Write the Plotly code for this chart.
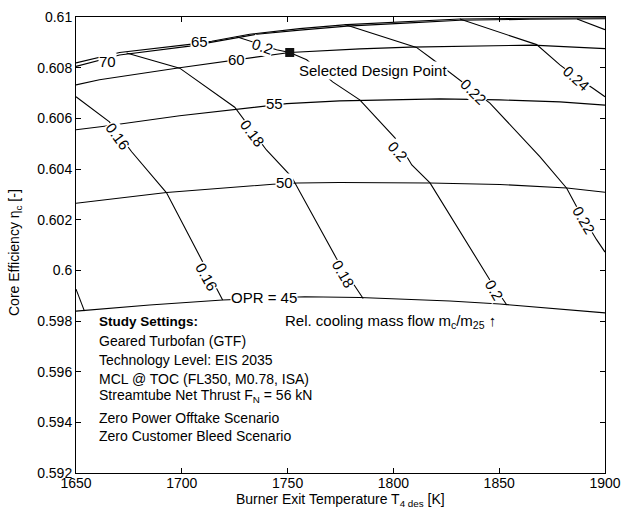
import plotly.graph_objects as go

# ---------------- data ----------------
x_tickvals = [1650, 1700, 1750, 1800, 1850, 1900]
y_tickvals = [0.592, 0.594, 0.596, 0.598, 0.600, 0.602, 0.604, 0.606, 0.608, 0.610]
y_ticktext = ["0.592", "0.594", "0.596", "0.598", "0.6", "0.602", "0.604", "0.606", "0.608", "0.61"]

# OPR iso-lines (T4 [K], core efficiency [-])
opr45_T = [1650, 1684.8, 1719.3, 1738.7, 1758.1, 1784.1, 1803.0, 1826.7, 1850.3, 1873.9, 1900]
opr45_eta = [0.59839, 0.59863, 0.59883, 0.59891, 0.59896, 0.59893, 0.59887, 0.59879, 0.59867, 0.59851, 0.59832]

opr50_T = [1650, 1692.8, 1743.0, 1754.8, 1774.6, 1817.2, 1850.3, 1882.0, 1900]
opr50_eta = [0.60265, 0.60307, 0.60340, 0.60345, 0.60347, 0.60345, 0.60339, 0.60325, 0.60308]

opr55_T = [1650, 1662.5, 1699.0, 1738.2, 1749.6, 1774.6, 1822.0, 1850.3, 1878.7, 1900]
opr55_eta = [0.60555, 0.60568, 0.60610, 0.60649, 0.60658, 0.60669, 0.60677, 0.60673, 0.60665, 0.60652]

opr60_T = [1650, 1661.1, 1699.0, 1721.2, 1731.1, 1751.0, 1784.1, 1807.8, 1865.9, 1900]
opr60_eta = [0.60732, 0.60752, 0.60800, 0.60825, 0.60838, 0.60860, 0.60874, 0.60881, 0.60889, 0.60875]

opr65_T = [1650, 1670.6, 1703.7, 1714.1, 1732.1, 1755.7, 1778.0, 1807.8, 1831.4, 1864.5, 1900]
opr65_eta = [0.60819, 0.60860, 0.60892, 0.60904, 0.60932, 0.60954, 0.60970, 0.60983, 0.60992, 0.60995, 0.60997]

opr70_T = [1650, 1670.6, 1703.7, 1725.9, 1735.4, 1755.7, 1778.0, 1807.8, 1831.4, 1864.5, 1900]
opr70_eta = [0.60805, 0.60850, 0.60885, 0.60918, 0.60932, 0.60948, 0.60964, 0.60977, 0.60987, 0.60991, 0.60993]

# relative cooling mass flow iso-lines
cool014_T = [1650, 1654.0]
cool014_eta = [0.59926, 0.59839]

cool016_T = [1650, 1665.8, 1676.3, 1692.8, 1709.4, 1717.9, 1719.3]
cool016_eta = [0.60685, 0.60586, 0.60468, 0.60306, 0.60041, 0.59910, 0.59883]

cool018_T = [1673.9, 1699.0, 1725.0, 1740.0, 1751.8, 1773.1, 1785.7]
cool018_eta = [0.60858, 0.60798, 0.60644, 0.60475, 0.60370, 0.60047, 0.59889]

cool020_T = [1725.9, 1733.5, 1744.8, 1751.0, 1759.0, 1771.3, 1784.1, 1801.6, 1808.7, 1817.3, 1845.6, 1853.6]
cool020_eta = [0.60922, 0.60902, 0.60871, 0.60860, 0.60831, 0.60744, 0.60673, 0.60515, 0.60416, 0.60345, 0.59962, 0.59863]

cool022_T = [1777.0, 1810.9, 1818.8, 1828.2, 1845.6, 1869.2, 1881.9, 1886.6, 1896.1, 1900]
cool022_eta = [0.60970, 0.60880, 0.60831, 0.60772, 0.60660, 0.60449, 0.60324, 0.60251, 0.60120, 0.60072]

cool024_T = [1831.4, 1867.7, 1878.7, 1886.8, 1894.3, 1900]
cool024_eta = [0.60992, 0.60891, 0.60811, 0.60760, 0.60719, 0.60685]

cool026_T = [1886.8, 1900]
cool026_eta = [0.60992, 0.60950]

design_T = [1751.0]
design_eta = [0.60860]

# contour labels: text, T, eta
label_text = ["70", "65", "60", "55", "50", "OPR = 45",
              "0.16", "0.16", "0.18", "0.18", "0.2", "0.2", "0.2", "0.22", "0.22", "0.24"]
label_T = [1664.9, 1708.4, 1725.9, 1743.9, 1748.6, 1738.7,
           1669.8, 1711.6, 1733.6, 1776.2, 1738.2, 1802.1, 1847.9, 1837.7, 1889.7, 1886.6]
label_eta = [0.60823, 0.60902, 0.60831, 0.60657, 0.60345, 0.59891,
             0.60528, 0.59975, 0.60542, 0.59988, 0.60883, 0.60468, 0.59922, 0.60706, 0.60199, 0.60759]

# ---------------- figure ----------------
FONT = "Liberation Sans, Arial, sans-serif"
fig = go.Figure()

lines = [
    (opr45_T, opr45_eta), (opr50_T, opr50_eta), (opr55_T, opr55_eta),
    (opr60_T, opr60_eta), (opr65_T, opr65_eta), (opr70_T, opr70_eta),
    (cool014_T, cool014_eta), (cool016_T, cool016_eta), (cool018_T, cool018_eta),
    (cool020_T, cool020_eta), (cool022_T, cool022_eta), (cool024_T, cool024_eta),
    (cool026_T, cool026_eta),
]
for t, e in lines:
    fig.add_trace(go.Scatter(x=t, y=e, mode="lines", line=dict(color="black", width=1.1),
                             hoverinfo="skip", showlegend=False))

fig.add_trace(go.Scatter(x=design_T, y=design_eta, mode="markers",
                         marker=dict(symbol="square", size=9, color="#111111"),
                         showlegend=False, hoverinfo="skip"))

label_angles = [0, 0, 0, 0, 0, 0, 54, 61, 53, 60, 19, 48, 60, 45, 60, 42]
annotations = []
for txt, t, e, a in zip(label_text, label_T, label_eta, label_angles):
    annotations.append(dict(x=t, y=e, xref="x", yref="y", text=txt, showarrow=False,
                            textangle=a, font=dict(family=FONT, size=15, color="black"),
                            bgcolor="white", borderpad=0, xanchor="center", yanchor="middle"))

annotations.append(dict(x=1754.9, y=0.60788, xref="x", yref="y", text="Selected Design Point",
                        showarrow=False, xanchor="left", yanchor="middle", bgcolor="white", borderpad=0,
                        font=dict(family=FONT, size=15, color="black")))
annotations.append(dict(x=1747.6, y=0.59800, xref="x", yref="y",
                        text="Rel. cooling mass flow m<sub>c</sub>/m<sub>25</sub> \u2191",
                        showarrow=False, xanchor="left", yanchor="middle",
                        font=dict(family=FONT, size=15, color="black")))

settings = [("<b>Study Settings:</b>", 0.59797),
            ("Geared Turbofan (GTF)", 0.59722),
            ("Technology Level: EIS 2035", 0.59648),
            ("MCL @ TOC (FL350, M0.78, ISA)", 0.59573),
            ("Streamtube Net Thrust F<sub>N</sub> = 56 kN", 0.59504),
            ("Zero Power Offtake Scenario", 0.59419),
            ("Zero Customer Bleed Scenario", 0.59348)]
for txt, yy in settings:
    annotations.append(dict(x=1660.0, y=yy, xref="x", yref="y", text=txt, showarrow=False,
                            xanchor="left", yanchor="middle",
                            font=dict(family=FONT, size=14 if "<b>" not in txt else 13.5, color="black")))

# axis titles
annotations.append(dict(x=0.5, y=0, xref="paper", yref="paper", yshift=-27,
                        text="Burner Exit Temperature T<sub>4 des</sub> [K]", showarrow=False,
                        xanchor="center", yanchor="middle",
                        font=dict(family=FONT, size=14, color="black")))
annotations.append(dict(x=0, y=0.5, xref="paper", yref="paper", xshift=-61, yshift=-8,
                        text="Core Efficiency \u03b7<sub>c</sub> [-]", showarrow=False, textangle=-90,
                        xanchor="center", yanchor="middle",
                        font=dict(family=FONT, size=14, color="black")))

axis_common = dict(showgrid=False, zeroline=False, showline=True, linecolor="black", linewidth=1,
                   mirror="ticks", ticks="inside", ticklen=5, tickcolor="black", automargin=False,
                   tickfont=dict(family=FONT, size=14, color="black"))

fig.update_layout(
    width=623, height=511,
    margin=dict(l=76, r=18, t=17, b=38),
    paper_bgcolor="white", plot_bgcolor="white",
    xaxis=dict(range=[1650, 1900], tickvals=x_tickvals, ticktext=[str(v) for v in x_tickvals],
               ticklabelstandoff=-3, **axis_common),
    yaxis=dict(range=[0.592, 0.610], tickvals=y_tickvals, ticktext=y_ticktext, **axis_common),
    annotations=annotations,
    showlegend=False,
)

fig.write_html("out.html")
